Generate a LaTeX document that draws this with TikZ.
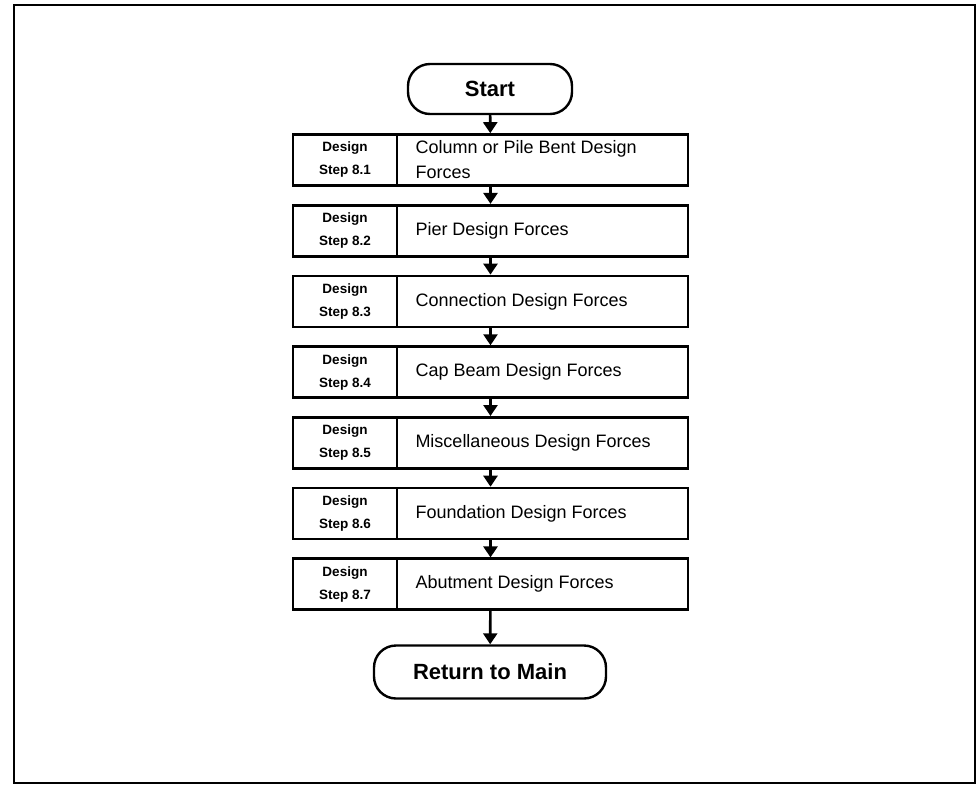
\documentclass[tikz,border=0pt]{standalone}
\usepackage{fontspec}
\setmainfont{Liberation Sans}
\usetikzlibrary{arrows.meta,positioning}
\tikzset{
  frameline/.style={line width=2.2pt},
  terminal/.style={draw,line width=2.4pt,rounded corners=22pt,align=center,
    font=\fontsize{22}{26}\selectfont\bfseries,inner sep=0pt},
  stepbox/.style={draw,line width=2.6pt,minimum width=395pt,minimum height=51pt,inner sep=0pt},
  steplabel/.style={draw,line width=2.6pt,minimum width=104pt,minimum height=51pt,inner sep=0pt,
    align=center,font=\fontsize{13.5}{23}\selectfont\bfseries},
  steptext/.style={anchor=west,align=left,inner sep=0pt,font=\fontsize{18}{25}\selectfont},
  arr/.style={line width=2.6pt,-{Triangle[width=14pt,length=11pt]}}
}
\begin{document}
\begin{tikzpicture}[x=1pt,y=-1pt]
\useasboundingbox (0,0) rectangle (980,785);
\draw[frameline] (14,5) rectangle (975,783);
\node[terminal,minimum width=164pt,minimum height=50pt] (start) at (490,89) {Start};
\foreach \i/\lab/\txt in {
  1/8.1/{Column or Pile Bent Design\\Forces},
  2/8.2/{Pier Design Forces},
  3/8.3/{Connection Design Forces},
  4/8.4/{Cap Beam Design Forces},
  5/8.5/{Miscellaneous Design Forces},
  6/8.6/{Foundation Design Forces},
  7/8.7/{Abutment Design Forces}}{
  \node[stepbox] (s\i) at (490.5,{160+70.7*(\i-1)}) {};
  \node[steplabel,anchor=west] (l\i) at (s\i.west) {Design\\Step \lab};
  \node[steptext] (t\i) at ([xshift=17pt]l\i.east) {\txt};
}
\node[terminal,minimum width=232pt,minimum height=53pt] (ret) at (490,672) {Return to Main};
\draw[arr] (start) -- (s1);
\foreach \a/\b in {1/2,2/3,3/4,4/5,5/6,6/7}{
  \draw[arr] (s\a) -- (s\b);
}
\draw[arr] (s7) -- (ret);
\end{tikzpicture}
\end{document}
